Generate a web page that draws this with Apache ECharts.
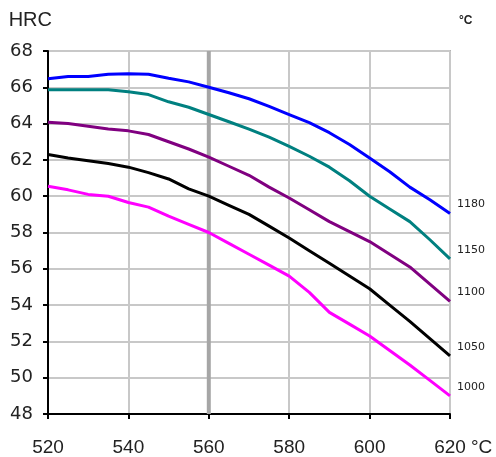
<!DOCTYPE html>
<html>
<head>
<meta charset="utf-8">
<script src="https://cdn.jsdelivr.net/npm/echarts@6/dist/echarts.min.js"></script>
<style>
  html, body { margin: 0; padding: 0; background: #fff; }
  #chart { width: 496px; height: 457px; }
</style>
</head>
<body>
<div id="chart"></div>
<script>
// tempering temperature, degC
var temps = [520, 525, 530, 535, 540, 545, 550, 555, 560, 565, 570, 575, 580, 585, 590, 595, 600, 605, 610, 615, 620];
// hardness HRC per hardening temperature
var hrc1180 = [66.47, 66.6, 66.6, 66.72, 66.74, 66.72, 66.5, 66.3, 66.0, 65.7, 65.37, 64.95, 64.5, 64.05, 63.5, 62.85, 62.1, 61.35, 60.5, 59.8, 59.05];
var hrc1150 = [65.86, 65.86, 65.86, 65.86, 65.75, 65.6, 65.2, 64.9, 64.5, 64.1, 63.7, 63.25, 62.75, 62.2, 61.6, 60.85, 60.0, 59.3, 58.6, 57.6, 56.55];
var hrc1100 = [64.07, 64.0, 63.85, 63.7, 63.6, 63.4, 63.0, 62.6, 62.15, 61.65, 61.15, 60.5, 59.9, 59.25, 58.6, 58.05, 57.5, 56.8, 56.1, 55.15, 54.2];
var hrc1050 = [62.3, 62.1, 61.95, 61.8, 61.6, 61.3, 60.95, 60.4, 60.0, 59.5, 59.0, 58.35, 57.7, 57.0, 56.3, 55.6, 54.9, 54.0, 53.1, 52.15, 51.2];
var hrc1000 = [60.55, 60.35, 60.1, 60.0, 59.65, 59.4, 58.9, 58.45, 58.0, 57.4, 56.8, 56.2, 55.6, 54.7, 53.6, 52.95, 52.3, 51.5, 50.7, 49.85, 49.0];
var seriesNames = ['1180', '1150', '1100', '1050', '1000'];
var seriesColors = ['#0000ff', '#008080', '#800080', '#000000', '#ff00ff'];
var markTemp = 560;

function pairs(xs, ys) {
  var out = [];
  for (var i = 0; i < xs.length; i++) out.push([xs[i], ys[i]]);
  return out;
}

var chart = echarts.init(document.getElementById('chart'));
var font = 'Liberation Sans, Arial, sans-serif';
var wideFont = 'DejaVu Sans, Verdana, sans-serif';
var allData = [hrc1180, hrc1150, hrc1100, hrc1050, hrc1000];

var series = [{
  type: 'line',
  silent: true,
  symbol: 'none',
  data: [[markTemp, 48], [markTemp, 68]],
  lineStyle: { color: '#a6a6a6', width: 4 },
  z: 1
}];
allData.forEach(function (d, i) {
  series.push({
    name: seriesNames[i],
    type: 'line',
    symbol: 'none',
    data: pairs(temps, d),
    lineStyle: { color: seriesColors[i], width: 3 },
    itemStyle: { color: seriesColors[i] },
    endLabel: {
      show: true,
      formatter: seriesNames[i],
      color: '#222',
      fontSize: 11,
      fontFamily: wideFont,
      distance: 7,
      offset: [0, -9]
    },
    z: 3
  });
});

chart.setOption({
  animation: false,
  grid: {
    left: 48, top: 51, right: 46, bottom: 41,
    show: true, borderColor: '#b4b4b4', borderWidth: 2
  },
  graphic: [{
    type: 'text', left: 459, top: 15,
    style: { text: '°C', fontSize: 12, fontWeight: 'bold', fontFamily: font, fill: '#222' }
  }, {
    type: 'text', left: 471, top: 438,
    style: { text: '°C', fontSize: 19, fontFamily: font, fill: '#222' }
  }],
  xAxis: {
    type: 'value', min: 520, max: 620, interval: 20,
    axisLine: { lineStyle: { color: '#000', width: 2 } },
    axisTick: { show: true, length: 5, lineStyle: { color: '#000', width: 2 } },
    axisLabel: { fontSize: 19, fontFamily: font, color: '#222', margin: 24 },
    splitLine: { show: true, lineStyle: { color: '#c8c8c8', width: 2 } }
  },
  yAxis: {
    type: 'value', min: 48, max: 68, interval: 2,
    name: 'HRC', nameLocation: 'end', nameGap: 21,
    nameTextStyle: { fontSize: 20, fontFamily: font, color: '#222', align: 'right', padding: [0, -4, 0, 0] },
    axisLine: { show: true, lineStyle: { color: '#000', width: 2 } },
    axisTick: { show: true, length: 5, lineStyle: { color: '#000', width: 2 } },
    axisLabel: { fontSize: 18, fontFamily: wideFont, color: '#222', margin: 15 },
    splitLine: { show: true, lineStyle: { color: '#c8c8c8', width: 2 } }
  },
  series: series
});
</script>
</body>
</html>
